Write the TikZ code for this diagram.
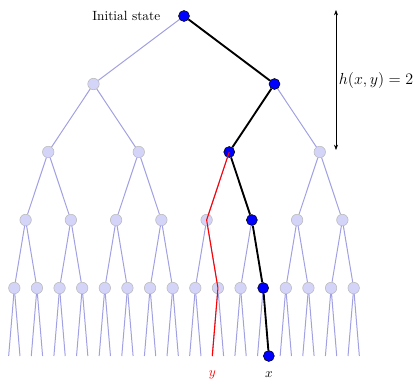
\documentclass[tikz,border=0pt]{standalone}
\usepackage{amsmath}
\usepackage{tikz}
\usetikzlibrary{arrows.meta, positioning, backgrounds}
\definecolor{cEdge}{RGB}{160,160,226}
\definecolor{cState}{RGB}{212,212,248}
\definecolor{cRim}{RGB}{185,185,185}
\tikzset{
	state/.style   ={circle, draw=cRim, fill=cState, minimum size=8.6pt, inner sep=0pt},
	onpath/.style  ={circle, draw=black, fill=blue, minimum size=8.2pt, inner sep=0pt},
	tedge/.style   ={draw=cEdge, line width=0.75pt},
	route/.style   ={draw=black, line width=1.4pt},
	other/.style   ={draw=red, line width=0.8pt},
	span/.style    ={{Stealth[length=4pt,width=3pt]}-{Stealth[length=4pt,width=3pt]}, thin},
}

\begin{document}
\begin{tikzpicture}[x=0.75pt, y=-0.75pt, font=\normalsize,
	% nodes on the route to x
	hl-0-0/.style={onpath}, hl-1-1/.style={onpath}, hl-2-2/.style={onpath},
	hl-3-5/.style={onpath}, hl-4-11/.style={onpath}]
	\useasboundingbox (0,0) rectangle (418,382);
	% tree levels 0..4 as nodes, level 5 as bare ends
	\foreach \l in {0,...,4} {
		\pgfmathtruncatemacro\n{2^\l-1}
		\foreach \i in {0,...,\n}
			\node[state, hl-\l-\i/.try] (n-\l-\i) at ({184+(\i-\n/2)*362/2^\l}, {16+68*\l}) {};
	}
	\foreach \i in {0,...,31}
		\coordinate (n-5-\i) at ({184+(\i-15.5)*362/32}, 356);
	\node[onpath] (x) at (n-5-23) {};
	\begin{scope}[on background layer]
		\foreach \l in {0,...,4} {
			\pgfmathtruncatemacro\n{2^\l-1}
			\pgfmathtruncatemacro\m{\l+1}
			\foreach \i in {0,...,\n} {
				\pgfmathtruncatemacro\a{2*\i}
				\pgfmathtruncatemacro\b{2*\i+1}
				\draw[tedge] (n-\l-\i) -- (n-\m-\a);
				\draw[tedge] (n-\l-\i) -- (n-\m-\b);
			}
		}
		\draw[route] (n-0-0) -- (n-1-1) -- (n-2-2) -- (n-3-5) -- (n-4-11) -- (x);
	\end{scope}
	\draw[other] (n-2-2.center) -- (n-3-4.center) -- (n-4-9.center) -- (n-5-18);
	\node[left=10pt of n-0-0] (init) {Initial state};
	\node[red, below=11pt of n-5-18, inner sep=0pt] (ylab) {$y$};
	\node[below=7.5pt of x, inner sep=0pt] (xlab) {$x$};
	% height marker
	\coordinate (htop) at (336,10);
	\coordinate (hbot) at (336,150);
	\draw[span] (htop) -- node[right, inner sep=2pt, font=\large] {$h(x,y)=2$} (hbot);
\end{tikzpicture}
\end{document}
